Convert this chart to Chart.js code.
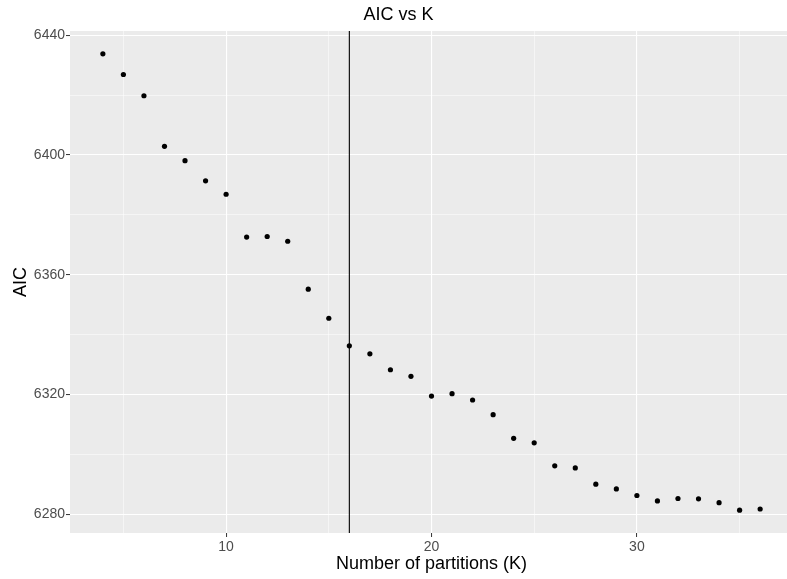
<!DOCTYPE html>
<html lang="en">
<head>
  <meta charset="UTF-8">
  <title>AIC vs K</title>
  <style>
    body {
      margin: 0;
      padding: 0;
      background: #ffffff;
      overflow: hidden;
    }
    canvas#aicChart {
      display: block;
    }
  </style>
</head>
<body>
  <canvas id="aicChart" width="797" height="579"></canvas>

  <script src="https://cdn.jsdelivr.net/npm/chart.js"></script>
  <script>
    // data
    const partitions = [4, 5, 6, 7, 8, 9, 10, 11, 12, 13, 14, 15, 16, 17, 18, 19, 20,
                        21, 22, 23, 24, 25, 26, 27, 28, 29, 30, 31, 32, 33, 34, 35, 36];
    const aicValues = [6433.8, 6426.9, 6419.8, 6402.9, 6398.1, 6391.4, 6386.9, 6372.6,
                       6372.8, 6371.2, 6355.2, 6345.5, 6336.3, 6333.6, 6328.3, 6326.1,
                       6319.5, 6320.3, 6318.2, 6313.3, 6305.4, 6303.9, 6296.2, 6295.5,
                       6290.1, 6288.5, 6286.3, 6284.5, 6285.3, 6285.2, 6283.9, 6281.4, 6281.8];
    const chosenK = 16;

    const xGrid = [5, 10, 15, 20, 25, 30, 35];
    const xLabels = [10, 20, 30];
    const yGrid = [6280, 6300, 6320, 6340, 6360, 6380, 6400, 6420, 6440];
    const yLabels = [6280, 6320, 6360, 6400, 6440];

    const fontFamily = "'Liberation Sans', Arial, Helvetica, sans-serif";

    // ggplot-ish 5% expansion of the data range
    const xMin = 4 - 0.05 * 32, xMax = 36 + 0.05 * 32;
    const yLo = Math.min(...aicValues), yHi = Math.max(...aicValues);
    const yMin = yLo - 0.05 * (yHi - yLo), yMax = yHi + 0.05 * (yHi - yLo);

    const panelPlugin = {
      id: 'panel',
      beforeDraw(chart) {
        const { ctx, chartArea } = chart;
        ctx.save();
        ctx.fillStyle = '#EBEBEB';
        ctx.fillRect(chartArea.left, chartArea.top,
                     chartArea.right - chartArea.left, chartArea.bottom - chartArea.top);
        ctx.restore();
      },
      afterDatasetsDraw(chart) {
        // vertical marker at the chosen K
        const { ctx, chartArea, scales } = chart;
        const x = scales.x.getPixelForValue(chosenK);
        ctx.save();
        ctx.strokeStyle = '#000000';
        ctx.lineWidth = 1.1;
        ctx.beginPath();
        ctx.moveTo(x, chartArea.top);
        ctx.lineTo(x, chartArea.bottom);
        ctx.stroke();
        ctx.restore();
      }
    };

    const points = partitions.map((k, i) => ({ x: k, y: aicValues[i] }));

    const isMajor = (list, v) => list.includes(v);

    new Chart(document.getElementById('aicChart'), {
      type: 'scatter',
      data: {
        datasets: [{
          data: points,
          backgroundColor: '#000000',
          borderColor: '#000000',
          pointRadius: 2.6,
          pointBorderWidth: 0
        }]
      },
      options: {
        responsive: false,
        animation: false,
        devicePixelRatio: 1,
        layout: { padding: 0 },
        plugins: {
          legend: { display: false },
          tooltip: { enabled: false },
          title: {
            display: true,
            text: 'AIC vs K',
            color: '#000000',
            font: { family: fontFamily, size: 18, weight: 'normal' },
            padding: { top: 4, bottom: 5.4 }
          }
        },
        scales: {
          x: {
            type: 'linear',
            min: xMin,
            max: xMax,
            afterBuildTicks: scale => { scale.ticks = xGrid.map(v => ({ value: v })); },
            afterFit: scale => { scale.height = 46; },
            border: { display: false },
            grid: {
              color: '#FFFFFF',
              lineWidth: c => isMajor(xLabels, c.tick.value) ? 1.1 : 0.5,
              tickColor: c => isMajor(xLabels, c.tick.value) ? '#333333' : 'rgba(0,0,0,0)',
              tickLength: 4,
              tickWidth: 1
            },
            ticks: {
              color: '#4D4D4D',
              font: { family: fontFamily, size: 14 },
              padding: 2,
              maxRotation: 0,
              autoSkip: false,
              callback: v => isMajor(xLabels, v) ? String(v) : ''
            },
            title: {
              display: true,
              text: 'Number of partitions (K)',
              color: '#000000',
              font: { family: fontFamily, size: 18 },
              padding: { top: 0, bottom: 4.5 }
            }
          },
          y: {
            type: 'linear',
            min: yMin,
            max: yMax,
            afterBuildTicks: scale => { scale.ticks = yGrid.map(v => ({ value: v })); },
            afterFit: scale => { scale.width = 70; },
            border: { display: false },
            grid: {
              color: '#FFFFFF',
              lineWidth: c => isMajor(yLabels, c.tick.value) ? 1.1 : 0.5,
              tickColor: c => isMajor(yLabels, c.tick.value) ? '#333333' : 'rgba(0,0,0,0)',
              tickLength: 4,
              tickWidth: 1
            },
            ticks: {
              color: '#4D4D4D',
              font: { family: fontFamily, size: 14 },
              padding: 1,
              autoSkip: false,
              callback: v => isMajor(yLabels, v) ? String(v) : ''
            },
            title: {
              display: true,
              text: 'AIC',
              color: '#000000',
              font: { family: fontFamily, size: 18 },
              padding: { top: 10, bottom: 0 }
            }
          }
        }
      },
      plugins: [panelPlugin]
    });
  </script>
</body>
</html>
